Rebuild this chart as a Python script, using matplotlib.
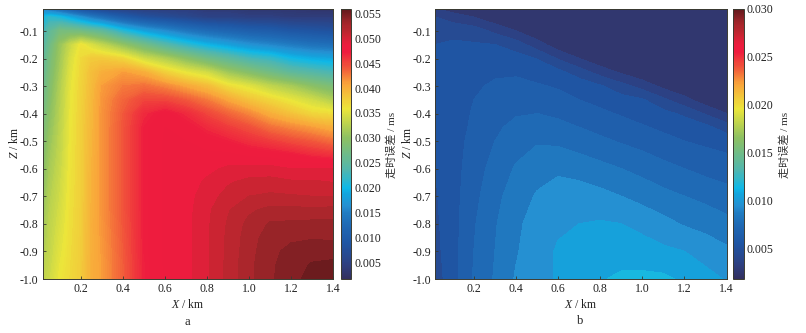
import numpy as np
import matplotlib
matplotlib.use("Agg")
import matplotlib.pyplot as plt
from matplotlib.colors import LinearSegmentedColormap, Normalize
from matplotlib.cm import ScalarMappable

plt.rcParams.update({
    'font.family': ['Liberation Serif', 'Noto Sans CJK SC'],
    'mathtext.fontset': 'custom',
    'mathtext.rm': 'Liberation Serif',
    'mathtext.it': 'Liberation Serif:italic',
    'axes.unicode_minus': False,
    'font.size': 8.5,
})

x_a = [0.017, 0.05, 0.1, 0.15, 0.2, 0.25, 0.3, 0.4, 0.5, 0.6, 0.7, 0.8, 0.9, 1.0, 1.1, 1.2, 1.3, 1.4]
z_a = [-0.018, -0.05, -0.10, -0.15, -0.20, -0.25, -0.30, -0.35, -0.40, -0.45, -0.50,
       -0.55, -0.60, -0.65, -0.70, -0.75, -0.80, -0.85, -0.90, -0.95, -1.00]
x_b = [0.017, 0.1, 0.2, 0.3, 0.4, 0.5, 0.6, 0.7, 0.8, 0.9, 1.0, 1.1, 1.2, 1.3, 1.4]
z_b = [-0.018, -0.05, -0.10, -0.15, -0.20, -0.25, -0.30, -0.35, -0.40, -0.45, -0.50,
       -0.60, -0.70, -0.80, -0.90, -1.00]

# travel-time error, 1e-3 ms; rows follow z, columns follow x
err_a = [
 [15.0, 13.0, 11.0,  9.0,  7.0,  6.0,  5.0,  4.5,  4.0,  4.0,  4.0,  3.5,  3.5,  3.0,  3.0,  3.0,  2.5,  2.5],
 [20.0, 21.5, 20.5, 18.5, 16.5, 14.5, 13.0, 10.0,  8.0,  7.0,  6.0,  5.0,  5.0,  4.5,  4.5,  4.0,  4.0,  4.0],
 [22.0, 25.0, 27.5, 27.5, 27.0, 26.0, 25.0, 21.0, 18.0, 16.0, 14.0, 12.5, 11.5, 10.5, 10.0,  9.0,  8.5,  8.0],
 [23.5, 26.5, 30.5, 33.5, 36.0, 34.5, 33.0, 30.0, 27.0, 24.0, 21.5, 19.5, 18.0, 16.5, 15.5, 14.5, 13.5, 13.0],
 [24.5, 27.5, 31.0, 34.5, 36.8, 38.0, 38.0, 37.0, 34.0, 32.0, 29.5, 27.0, 25.0, 23.0, 22.0, 20.0, 19.0, 18.5],
 [25.0, 28.0, 31.5, 35.0, 37.0, 38.8, 40.0, 41.0, 40.0, 37.5, 35.5, 34.0, 31.0, 29.0, 27.0, 25.0, 24.0, 23.0],
 [25.8, 28.5, 32.0, 35.3, 37.2, 39.0, 41.0, 42.5, 43.0, 42.0, 40.5, 39.0, 36.5, 35.0, 33.0, 31.5, 29.5, 28.0],
 [26.3, 29.0, 32.3, 35.5, 37.3, 39.2, 41.3, 43.5, 45.0, 45.0, 44.0, 42.5, 40.5, 38.5, 37.0, 35.5, 34.0, 32.0],
 [27.0, 29.5, 32.5, 35.6, 37.4, 39.3, 41.4, 44.0, 46.5, 47.5, 46.5, 45.0, 43.5, 42.0, 40.0, 38.5, 37.0, 36.5],
 [27.5, 30.0, 32.8, 35.7, 37.5, 39.4, 41.4, 44.2, 47.0, 48.0, 47.5, 46.5, 45.5, 44.5, 43.0, 42.0, 41.0, 40.0],
 [28.0, 30.5, 33.0, 35.8, 37.5, 39.5, 41.4, 44.2, 47.0, 48.1, 48.0, 47.5, 47.0, 46.2, 45.5, 44.7, 44.0, 43.0],
 [28.5, 31.0, 33.2, 35.9, 37.5, 39.6, 41.4, 44.2, 47.0, 48.1, 48.2, 48.2, 48.2, 47.8, 47.6, 47.2, 46.5, 46.0],
 [29.0, 31.4, 33.5, 36.0, 37.5, 39.7, 41.4, 44.2, 47.0, 48.1, 48.3, 48.7, 49.2, 49.4, 49.4, 49.0, 49.0, 49.0],
 [29.4, 31.8, 33.8, 36.1, 37.5, 39.8, 41.4, 44.2, 47.0, 48.1, 48.4, 49.2, 49.9, 50.3, 50.4, 50.2, 50.2, 50.0],
 [30.0, 32.2, 34.0, 36.2, 37.5, 39.8, 41.4, 44.2, 47.0, 48.1, 48.5, 49.6, 50.3, 51.0, 51.2, 51.1, 51.0, 51.0],
 [30.4, 32.5, 34.3, 36.3, 37.6, 39.8, 41.4, 44.2, 47.0, 48.1, 48.6, 49.75, 50.9, 51.8, 52.3, 52.3, 52.2, 52.3],
 [31.0, 32.8, 34.6, 36.4, 37.6, 39.9, 41.3, 44.1, 47.0, 48.1, 48.6, 49.8, 51.1, 52.3, 53.1, 53.2, 53.3, 53.3],
 [31.4, 33.0, 34.9, 36.5, 37.7, 39.9, 41.2, 44.0, 47.0, 48.1, 48.6, 49.8, 51.2, 52.5, 53.5, 53.8, 53.9, 53.8],
 [32.0, 33.2, 35.2, 36.6, 37.7, 39.9, 41.1, 43.9, 47.0, 48.1, 48.6, 49.8, 51.2, 52.6, 53.7, 54.3, 54.6, 54.7],
 [32.4, 33.5, 35.5, 36.7, 37.8, 40.0, 41.0, 43.8, 46.9, 48.1, 48.6, 49.8, 51.3, 52.7, 53.8, 54.5, 55.1, 55.2],
 [33.0, 33.8, 35.8, 36.8, 37.8, 40.0, 41.0, 43.8, 46.9, 48.1, 48.6, 49.8, 51.3, 52.7, 53.8, 54.7, 55.3, 55.6],
]
err_b = [
 [3.0, 2.5, 2.3, 2.2, 2.2, 2.2, 2.2, 2.2, 2.2, 2.2, 2.2, 2.2, 2.2, 2.2, 2.2],
 [4.0, 3.45, 3.0, 2.25, 2.2, 2.2, 2.2, 2.2, 2.2, 2.2, 2.2, 2.2, 2.2, 2.3, 2.3],
 [5.0, 4.8, 4.5, 3.75, 3.0, 2.2, 2.2, 2.2, 2.2, 2.2, 2.2, 2.2, 2.3, 2.7, 2.9],
 [5.0, 5.1, 5.1, 5.0, 4.5, 3.45, 2.4, 2.2, 2.2, 2.2, 2.2, 2.2, 2.3, 2.6, 2.8],
 [5.0, 5.2, 5.6, 5.6, 5.4, 4.95, 3.9, 3.0, 2.2, 2.2, 2.2, 2.2, 2.2, 2.4, 2.5],
 [5.1, 5.3, 5.7, 5.9, 5.9, 5.6, 5.3, 4.5, 3.6, 2.85, 2.2, 2.2, 2.2, 2.3, 2.4],
 [5.1, 5.4, 5.9, 6.1, 6.2, 6.1, 5.9, 5.6, 5.1, 4.35, 3.6, 2.7, 2.2, 2.2, 2.3],
 [5.1, 5.4, 6.0, 6.4, 6.6, 6.5, 6.3, 6.0, 5.7, 5.4, 5.1, 4.2, 3.3, 2.4, 2.2],
 [5.1, 5.5, 6.1, 6.6, 6.9, 7.0, 6.8, 6.5, 6.2, 5.9, 5.6, 5.3, 4.8, 3.9, 3.0],
 [5.1, 5.5, 6.2, 6.8, 7.3, 7.4, 7.3, 7.0, 6.7, 6.4, 6.1, 5.8, 5.6, 5.3, 4.5],
 [5.0, 5.6, 6.3, 7.0, 7.6, 7.9, 7.8, 7.5, 7.2, 6.9, 6.6, 6.3, 6.0, 5.8, 5.6],
 [5.0, 5.6, 6.5, 7.4, 8.1, 8.6, 8.8, 8.6, 8.3, 8.0, 7.7, 7.3, 7.0, 6.7, 6.5],
 [4.9, 5.6, 6.7, 7.7, 8.5, 9.1, 9.5, 9.5, 9.3, 9.0, 8.6, 8.3, 8.0, 7.7, 7.4],
 [4.8, 5.6, 6.9, 7.9, 8.8, 9.4, 9.85, 10.0, 10.1, 10.0, 9.8, 9.3, 8.9, 8.7, 8.3],
 [4.7, 5.6, 7.0, 8.0, 8.9, 9.6, 10.1, 10.4, 10.6, 10.5, 10.3, 10.2, 10.0, 9.5, 9.2],
 [4.5, 5.6, 7.1, 8.1, 9.1, 9.6, 10.1, 10.5, 10.9, 11.2, 11.3, 11.2, 10.8, 10.4, 9.9],
]
ticks_x = [0.2, 0.4, 0.6, 0.8, 1.0, 1.2, 1.4]
ticks_z = [-0.1, -0.2, -0.3, -0.4, -0.5, -0.6, -0.7, -0.8, -0.9, -1.0]
ticks_a = [0.005, 0.010, 0.015, 0.020, 0.025, 0.030, 0.035, 0.040, 0.045, 0.050, 0.055]
ticks_b = [0.005, 0.010, 0.015, 0.020, 0.025, 0.030]
range_a = (0.0016, 0.056)
range_b = (0.0018, 0.030)
cbar_label = '走时误差 / ms'

anchors = [(0.00, '#33305f'), (0.05, '#2e3f80'), (0.13, '#1f55a3'), (0.20, '#1f6ab5'),
           (0.237, '#2079c0'), (0.27, '#2590d2'), (0.31, '#14a3dc'), (0.335, '#0eb8e8'),
           (0.40, '#4fb6b0'), (0.52, '#8cc063'), (0.63, '#ece63a'),
           (0.72, '#f9a63a'), (0.78, '#f15a3a'), (0.84, '#ee1c3e'), (0.862, '#ee1c3e'),
           (0.88, '#e0203a'), (0.899, '#ce2433'), (0.917, '#bc262f'), (0.936, '#ac262c'),
           (0.955, '#9a2428'), (0.972, '#842024'), (0.991, '#6d1b1e'), (1.00, '#641a1c')]
cmap = LinearSegmentedColormap.from_list('tt', anchors)

levels_a = np.r_[np.arange(1.0, 48.01, 0.25), np.arange(49.0, 57.1, 1.0)] * 1e-3
levels_b = np.arange(1.0, 31.1, 1.0) * 1e-3

W, H = 806, 333
fig = plt.figure(figsize=(W / 100, H / 100), dpi=100)


def rect(x0, x1, y0, y1):
    return [x0 / W, 1 - y1 / H, (x1 - x0) / W, (y1 - y0) / H]


EDGE = '#3a3a30'
TXT = '#222222'


def panel(ax_px, cb_px, xs, zs, data, levels, vrange, cticks, tag, tag_xy, xlab_x):
    ax = fig.add_axes(rect(*ax_px))
    cax = fig.add_axes(rect(*cb_px))
    norm = Normalize(*vrange)
    vals = np.array(data) * 1e-3
    cs = ax.contourf(xs, zs, vals, levels=levels, cmap=cmap, norm=norm)
    cs.set_edgecolor('face')
    cs.set_linewidth(0.3)
    ax.set_xlim(xs[0], xs[-1])
    ax.set_ylim(zs[-1], zs[0])
    ax.set_xticks(ticks_x, [f'{t:.1f}' for t in ticks_x])
    ax.set_yticks(ticks_z, [f'{t:.1f}' for t in ticks_z])
    ax.tick_params(direction='in', length=2.5, width=0.6, color=EDGE, pad=3, labelcolor=TXT)
    for s in ax.spines.values():
        s.set_linewidth(0.7)
        s.set_color(EDGE)
        s.set_zorder(5)
    cb = fig.colorbar(ScalarMappable(norm=norm, cmap=cmap), cax=cax)
    cb.set_ticks(cticks, labels=[f'{t:.3f}' for t in cticks])
    cb.ax.tick_params(length=0, pad=2.5, labelcolor=TXT)
    cb.outline.set_linewidth(0.7)
    cb.outline.set_edgecolor(EDGE)
    fig.text(xlab_x / W, 1 - 304 / H, r'$\mathit{X}$ / km', ha='center', va='center', color=TXT)
    fig.text((ax_px[0] - 28) / W, 1 - 143 / H, r'$\mathit{Z}$ / km', rotation=90,
             ha='center', va='center', color=TXT)
    fig.text((cb_px[1] + 41) / W, 1 - 145 / H, cbar_label, rotation=90, ha='center', va='center',
             color='#333333', fontsize=8)
    fig.text(tag_xy[0] / W, 1 - tag_xy[1] / H, tag, ha='center', va='center', color=TXT, fontsize=9)


panel((42.5, 333, 8.5, 279), (340.5, 351, 8.5, 279), x_a, z_a, err_a, levels_a, range_a,
      ticks_a, 'a', (187, 322), 188)
panel((435.5, 726.5, 8.5, 279), (733, 743.5, 8.5, 279), x_b, z_b, err_b, levels_b, range_b,
      ticks_b, 'b', (580, 321), 581)

fig.savefig('out.png', dpi=100)
